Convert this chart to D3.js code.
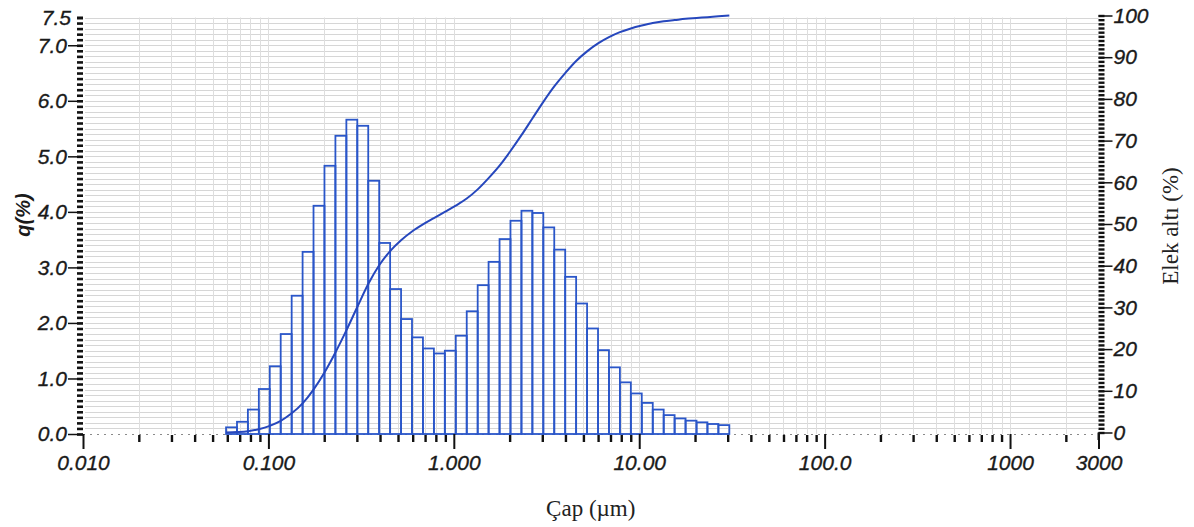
<!DOCTYPE html>
<html>
<head>
<meta charset="utf-8">
<script src="https://cdn.jsdelivr.net/npm/d3@7"></script>
<style>
  body { margin: 0; background: #fff; }
  svg { display: block; }
  .tick text { font-family: "Liberation Sans", Arial, sans-serif; font-style: italic; fill: #1a1a1a; stroke: #1a1a1a; stroke-width: 0.35px; }
  .serif { font-family: "Liberation Serif", "Times New Roman", serif; fill: #222; }
</style>
</head>
<body>
<svg width="1194" height="527"></svg>
<script>
// particle size classes (µm), lower edges of each bin + last upper edge
var binEdges = [0.0591, 0.0677, 0.0775, 0.0888, 0.1017, 0.1165, 0.1335, 0.1529, 0.1751, 0.2006,
  0.2298, 0.2633, 0.3016, 0.3455, 0.3958, 0.4534, 0.5194, 0.5950, 0.6816, 0.7808,
  0.8945, 1.0245, 1.174, 1.345, 1.540, 1.765, 2.021, 2.316, 2.653, 3.039,
  3.481, 3.988, 4.568, 5.233, 5.995, 6.867, 7.867, 9.012, 10.32, 11.83,
  13.55, 15.52, 17.78, 20.37, 23.33, 26.73, 30.62];

// q (%) per bin
var qValues = [0.12, 0.22, 0.44, 0.81, 1.22, 1.80, 2.49, 3.28, 4.11, 4.83,
  5.37, 5.66, 5.55, 4.56, 3.44, 2.61, 2.07, 1.74, 1.54, 1.45,
  1.50, 1.77, 2.21, 2.68, 3.10, 3.51, 3.84, 4.02, 3.98, 3.72,
  3.32, 2.83, 2.35, 1.90, 1.51, 1.20, 0.93, 0.73, 0.56, 0.44,
  0.34, 0.28, 0.24, 0.21, 0.18, 0.16];

// cumulative undersize (%) at each bin edge
var undersize = [0, 0.1, 0.3, 0.8, 1.6, 2.8, 4.6, 7.0, 10.3, 14.4,
  19.2, 24.5, 30.1, 35.6, 40.1, 43.5, 46.1, 48.2, 49.9, 51.4,
  52.9, 54.4, 56.1, 58.3, 61.0, 64.0, 67.5, 71.3, 75.3, 79.3,
  83.0, 86.2, 89.1, 91.4, 93.3, 94.8, 96.0, 96.9, 97.6, 98.2,
  98.6, 98.9, 99.2, 99.4, 99.6, 99.8, 100];

var xTickValues = [0.01, 0.1, 1, 10, 100, 1000, 3000];
var xTickLabels = ["0.010", "0.100", "1.000", "10.00", "100.0", "1000", "3000"];
var qTickValues = [0, 1, 2, 3, 4, 5, 6, 7];
var cumTickValues = [0, 10, 20, 30, 40, 50, 60, 70, 80, 90, 100];

var svg = d3.select("svg"),
    plotLeft = 83, plotRight = 1098.5, plotBottom = 434, plotTop = 17.5;

var x = d3.scaleLog().domain([0.01, 3000]).range([plotLeft, plotRight]),
    yq = d3.scaleLinear().domain([0, 7.5]).range([plotBottom, plotTop]),
    yc = d3.scaleLinear().domain([0, 100]).range([plotBottom - 1.5, plotTop - 2]);

var blue = "#2a56c9";

/* grid */
var grid = svg.append("g").attr("class", "grid");
grid.selectAll("line.h")
    .data(d3.range(1, 76).map(function(i) { return i / 10; }))
  .enter().append("line")
    .attr("class", "h")
    .attr("x1", plotLeft + 2).attr("x2", plotRight)
    .attr("y1", function(d) { return Math.round(yq(d)) + 0.5; })
    .attr("y2", function(d) { return Math.round(yq(d)) + 0.5; })
    .attr("stroke", "#d6d6d6").attr("stroke-width", 1);

var minorX = x.ticks().filter(function(d) { return d > 0.01 && d < 3000; });
grid.selectAll("line.v")
    .data(minorX)
  .enter().append("line")
    .attr("class", "v")
    .attr("y1", plotTop).attr("y2", plotBottom)
    .attr("x1", function(d) { return Math.round(x(d)) + 0.5; })
    .attr("x2", function(d) { return Math.round(x(d)) + 0.5; })
    .attr("stroke", "#dedede").attr("stroke-width", 1);

/* x axis: dotted baseline */
svg.append("line")
    .attr("x1", plotLeft).attr("x2", plotRight)
    .attr("y1", plotBottom + 0.5).attr("y2", plotBottom + 0.5)
    .attr("stroke", "#8a8a8a").attr("stroke-dasharray", "2,5");

/* histogram */
var bins = qValues.map(function(q, i) { return {x0: binEdges[i], x1: binEdges[i + 1], q: q}; });
svg.append("g").selectAll("rect")
    .data(bins)
  .enter().append("rect")
    .attr("x", function(d) { return x(d.x0); })
    .attr("width", function(d) { return x(d.x1) - x(d.x0); })
    .attr("y", function(d) { return yq(d.q); })
    .attr("height", function(d) { return yq(0) - yq(d.q); })
    .attr("fill", "none")
    .attr("stroke", blue)
    .attr("stroke-width", 1.8);

/* cumulative curve */
var cumLine = d3.line()
    .curve(d3.curveMonotoneX)
    .x(function(d, i) { return x(binEdges[i]); })
    .y(function(d) { return yc(d); });

svg.append("path")
    .datum(undersize)
    .attr("d", cumLine)
    .attr("fill", "none")
    .attr("stroke", "#2647bd")
    .attr("stroke-width", 2);

/* left axis */
var leftMinor = svg.append("g")
    .attr("transform", "translate(" + plotLeft + ",0)")
    .call(d3.axisLeft(yq).tickValues(d3.range(0, 76).map(function(i) { return i / 10; }))
      .tickSize(6).tickFormat(""));
leftMinor.select(".domain").remove();
leftMinor.selectAll(".tick line").attr("stroke", "#111").attr("stroke-width", 2.6);

var leftMajor = svg.append("g")
    .attr("transform", "translate(" + plotLeft + ",0)")
    .call(d3.axisLeft(yq).tickValues(qTickValues).tickSize(15).tickPadding(1)
      .tickFormat(function(d) { return d.toFixed(1); }));
leftMajor.select(".domain").remove();
leftMajor.selectAll(".tick line").attr("stroke", "#111").attr("stroke-width", 1.5);
leftMajor.selectAll(".tick text").attr("font-size", 21);

var leftTop = svg.append("g")
    .attr("transform", "translate(" + plotLeft + ",0)")
    .call(d3.axisLeft(yq).tickValues([7.5]).tickSize(6).tickPadding(6)
      .tickFormat(function(d) { return d.toFixed(1); }));
leftTop.select(".domain").remove();
leftTop.selectAll(".tick line").attr("stroke", "#111").attr("stroke-width", 2.6);
leftTop.selectAll(".tick text").attr("font-size", 21);

/* right axis */
var rightMinor = svg.append("g")
    .attr("transform", "translate(" + plotRight + ",0)")
    .call(d3.axisRight(yc).tickValues(d3.range(0, 101)).tickSize(6).tickFormat(""));
rightMinor.select(".domain").remove();
rightMinor.selectAll(".tick line").attr("stroke", "#111").attr("stroke-width", 2.4);

var rightMajor = svg.append("g")
    .attr("transform", "translate(" + plotRight + ",0)")
    .call(d3.axisRight(yc).tickValues(cumTickValues).tickSize(14).tickPadding(1)
      .tickFormat(d3.format("d")));
rightMajor.select(".domain").remove();
rightMajor.selectAll(".tick line").attr("stroke", "#111").attr("stroke-width", 1.5);
rightMajor.selectAll(".tick text").attr("font-size", 21);

svg.append("line")
    .attr("x1", plotRight).attr("x2", plotRight)
    .attr("y1", yc(0)).attr("y2", plotBottom + 6)
    .attr("stroke", "#111").attr("stroke-width", 2);

/* bottom axis */
var bottomMinor = svg.append("g")
    .attr("transform", "translate(0," + (plotBottom + 1) + ")")
    .call(d3.axisBottom(x).tickValues(minorX.filter(function(d) { return xTickValues.indexOf(d) < 0; }))
      .tickSize(7).tickFormat(""));
bottomMinor.select(".domain").remove();
bottomMinor.selectAll(".tick line").attr("stroke", "#111").attr("stroke-width", 2.4);

var bottomMajor = svg.append("g")
    .attr("transform", "translate(0," + plotBottom + ")")
    .call(d3.axisBottom(x).tickValues(xTickValues).tickSize(15).tickPadding(6)
      .tickFormat(function(d, i) { return xTickLabels[i]; }));
bottomMajor.select(".domain").remove();
bottomMajor.selectAll(".tick line").attr("stroke", "#111").attr("stroke-width", 2);
bottomMajor.selectAll(".tick text").attr("font-size", 21);

/* titles */
svg.append("text")
    .attr("transform", "translate(30,215) rotate(-90)")
    .attr("text-anchor", "middle")
    .style("font-family", "Liberation Sans, Arial, sans-serif")
    .style("font-style", "italic").style("font-weight", "bold")
    .attr("font-size", 20).attr("fill", "#1a1a1a")
    .text("q(%)");

svg.append("text")
    .attr("class", "serif")
    .attr("x", (plotLeft + plotRight) / 2).attr("y", 516)
    .attr("text-anchor", "middle")
    .attr("font-size", 23)
    .text("Çap (µm)");

svg.append("text")
    .attr("class", "serif")
    .attr("transform", "translate(1178,226) rotate(-90)")
    .attr("text-anchor", "middle")
    .attr("font-size", 23)
    .text("Elek altı (%)");
</script>
</body>
</html>
